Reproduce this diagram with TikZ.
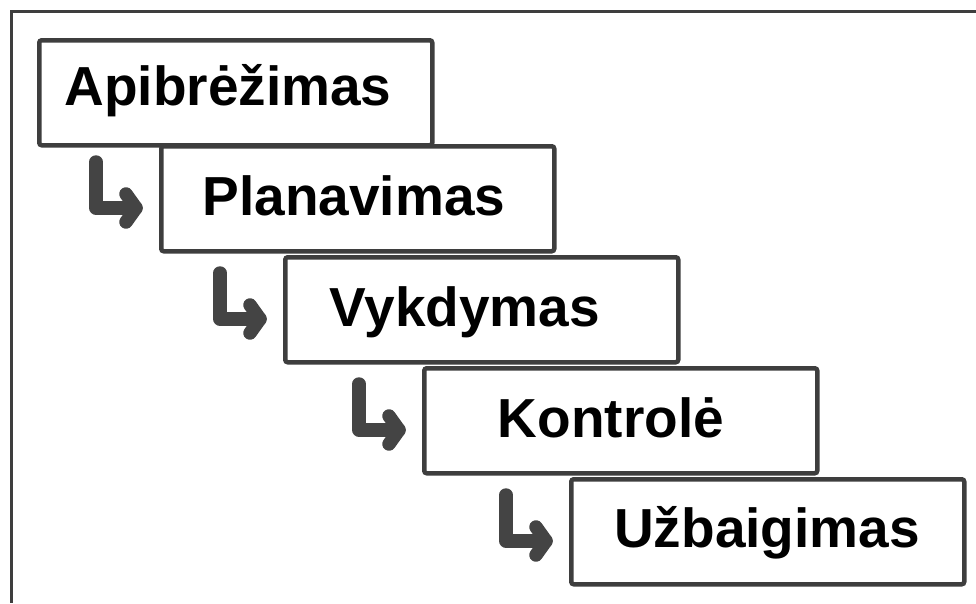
\documentclass[tikz,border=0pt]{standalone}
\usepackage{fontspec}
\setmainfont{Liberation Sans}
\definecolor{edge}{HTML}{3E3E3E}
\definecolor{arrowgray}{HTML}{444444}
\begin{document}
\begin{tikzpicture}[x=1pt,y=-1pt,
  stepbox/.style={draw=edge, line width=4.5pt, fill=white, rounded corners=2.5pt,
    rectangle, minimum width=393pt, minimum height=105pt, inner sep=0pt},
  steptext/.style={font=\fontsize{55}{60}\selectfont\bfseries, text=black, inner sep=0pt, anchor=base},
  bentarrow/.style={draw=arrowgray, line width=13.5pt, line cap=round, line join=round}]
  \useasboundingbox (0,0) rectangle (976,603);
  % outer frame: only the top and left sides are visible
  \coordinate (fa) at (976,11);
  \coordinate (fb) at (11,11);
  \coordinate (fc) at (11,603);
  \draw[edge, line width=3pt] (fa) -- (fb) -- (fc);

  % step boxes (north-west corner given)
  \node[stepbox, anchor=north west] (b1) at (37,38)  {};
  \node[steptext] (t1) at (228,105) {Apibrėžimas};
  \node[stepbox, anchor=north west] (b2) at (159,144) {};
  \node[steptext] (t2) at (354,215) {Planavimas};
  \node[stepbox, anchor=north west] (b3) at (283,255) {};
  \node[steptext] (t3) at (465,326) {Vykdymas};
  \node[stepbox, anchor=north west] (b4) at (422,366) {};
  \node[steptext] (t4) at (611,437) {Kontrolė};
  \node[stepbox, anchor=north west] (b5) at (569,477) {};
  \node[steptext] (t5) at (767,547) {Užbaigimas};

  % bent arrows leading into each following box
  \foreach \n in {2,3,4,5}{
    \coordinate (s\n) at ([xshift=-63pt,yshift=-18pt]b\n.north west);
    \coordinate (k\n) at ([xshift=-63pt,yshift=-64pt]b\n.north west);
    \coordinate (p\n) at ([xshift=-23pt,yshift=-64pt]b\n.north west);
    \coordinate (u\n) at ([xshift=-33pt,yshift=-50pt]b\n.north west);
    \coordinate (l\n) at ([xshift=-33pt,yshift=-78pt]b\n.north west);
    \draw[bentarrow] (s\n) -- (k\n) -- (p\n);
    \draw[bentarrow] (u\n) -- (p\n) -- (l\n);
  }
\end{tikzpicture}
\end{document}
